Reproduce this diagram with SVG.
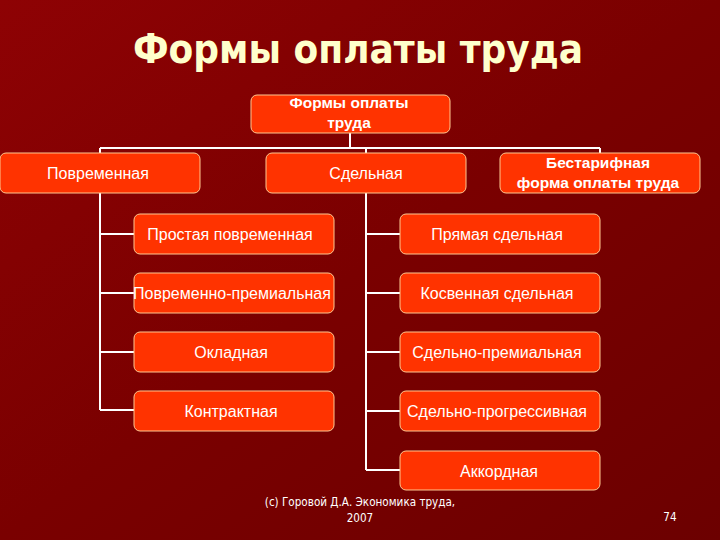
<svg xmlns="http://www.w3.org/2000/svg" width="720" height="540" viewBox="0 0 720 540">
<defs>
<linearGradient id="bg" x1="0" y1="0" x2="1" y2="1">
<stop offset="0" stop-color="#8e0204"/>
<stop offset="0.5" stop-color="#7a0000"/>
<stop offset="1" stop-color="#6c0000"/>
</linearGradient>
</defs>
<style>
.box{fill:#ff3300;stroke:#ffc890;stroke-width:1}
.t{font-family:"Liberation Sans",Arial,sans-serif;font-size:16px;fill:#ffffff;text-anchor:middle}
.b{font-weight:bold;font-size:15.5px}
.ln{stroke:#ffffff;stroke-width:2;fill:none}
.ft{font-family:"DejaVu Sans Condensed","DejaVu Sans",sans-serif;font-size:11.6px;fill:#ffffff}
</style>
<rect x="0" y="0" width="720" height="540" fill="url(#bg)"/>
<text x="358" y="63" font-family="'DejaVu Sans Condensed','DejaVu Sans',sans-serif" font-weight="bold" font-size="40" fill="#ffffcc" text-anchor="middle">Формы оплаты труда</text>
<g id="connectors" class="ln">
<path d="M350 133V148M100 148H600M100 148V153M366 148V153M600 148V153"/>
<path d="M100 193V410M100 234H134M100 293H134M100 352H134M100 410H134"/>
<path d="M366 193V470M366 234H400M366 293H400M366 352H400M366 411H400M366 470H400"/>
</g>
<g id="root"><rect class="box" x="251" y="95" width="199" height="38" rx="6"/><text class="t b" x="349" y="108">Формы оплаты</text><text class="t b" x="349" y="128">труда</text></g>
<g id="povremennaya"><rect class="box" x="0" y="153" width="200" height="40" rx="6"/><text class="t" x="98" y="179">Повременная</text></g>
<g id="sdelnaya"><rect class="box" x="266" y="153" width="200" height="40" rx="6"/><text class="t" x="366" y="179">Сдельная</text></g>
<g id="bestarifnaya"><rect class="box" x="500" y="153" width="200" height="40" rx="6"/><text class="t b" x="598" y="168">Бестарифная</text><text class="t b" x="598" y="188">форма оплаты труда</text></g>
<g id="l1"><rect class="box" x="134" y="214" width="200" height="40" rx="6"/><text class="t" x="230" y="240">Простая повременная</text></g>
<g id="l2"><rect class="box" x="134" y="273" width="200" height="40" rx="6"/><text class="t" x="232" y="299">Повременно-премиальная</text></g>
<g id="l3"><rect class="box" x="134" y="332" width="200" height="40" rx="6"/><text class="t" x="231" y="358">Окладная</text></g>
<g id="l4"><rect class="box" x="134" y="391" width="200" height="40" rx="6"/><text class="t" x="231" y="417">Контрактная</text></g>
<g id="r1"><rect class="box" x="400" y="214" width="200" height="40" rx="6"/><text class="t" x="497" y="240">Прямая сдельная</text></g>
<g id="r2"><rect class="box" x="400" y="273" width="200" height="40" rx="6"/><text class="t" x="497" y="299">Косвенная сдельная</text></g>
<g id="r3"><rect class="box" x="400" y="332" width="200" height="40" rx="6"/><text class="t" x="497" y="358">Сдельно-премиальная</text></g>
<g id="r4"><rect class="box" x="400" y="391" width="200" height="40" rx="6"/><text class="t" x="497" y="417">Сдельно-прогрессивная</text></g>
<g id="r5"><rect class="box" x="400" y="451" width="200" height="39" rx="6"/><text class="t" x="499" y="477">Аккордная</text></g>
<text class="ft" x="360" y="506" text-anchor="middle">(с) Горовой Д.А. Экономика труда,</text>
<text class="ft" x="360" y="522" text-anchor="middle">2007</text>
<text class="ft" x="670" y="521" text-anchor="middle">74</text>
</svg>
